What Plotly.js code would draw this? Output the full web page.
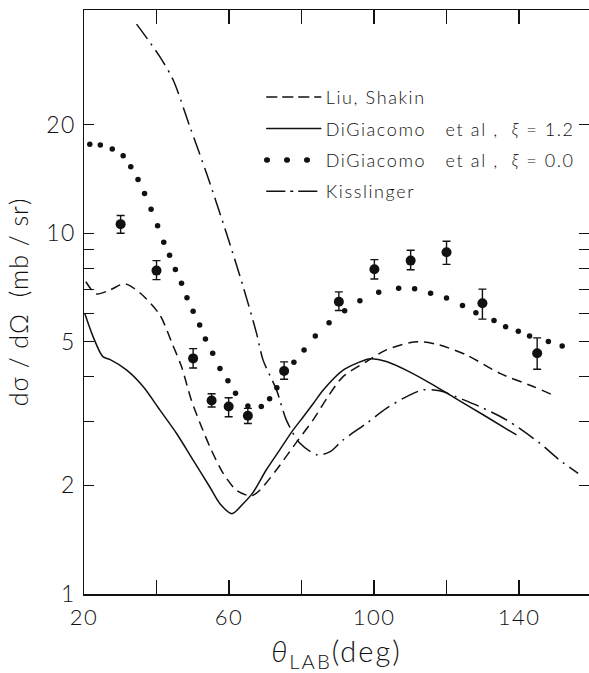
<!DOCTYPE html>
<html>
<head>
<meta charset="utf-8">
<script src="https://cdn.plot.ly/plotly-3.0.1.min.js"></script>
<style>
html,body{margin:0;padding:0;background:#fff;overflow:hidden;}
#chart{width:589px;height:673px;}
.xtick text, .ytick text { letter-spacing: 1.5px; }
.legendtext { letter-spacing: 1.6px; }
.g-xtitle text { letter-spacing: 2px; }
.g-ytitle text { letter-spacing: 1px; }
.legend .legendlines path { stroke-linecap: round; }
</style>
</head>
<body>
<div id="chart"></div>
<script>
// Experimental data: angle (deg), cross section (mb/sr), error bar top and bottom
const dataTheta = [30.1, 40.0, 50.1, 55.2, 59.9, 65.2, 75.2, 90.3, 100.1, 110.1, 120.0, 129.9, 145.0];
const dataSigma = [10.6, 7.88, 4.50, 3.44, 3.31, 3.12, 4.15, 6.46, 7.95, 8.40, 8.86, 6.40, 4.65];
const dataHigh  = [11.2, 8.40, 4.79, 3.59, 3.50, 3.27, 4.40, 6.88, 8.45, 8.97, 9.50, 7.00, 5.13];
const dataLow   = [10.0, 7.44, 4.23, 3.30, 3.10, 2.97, 3.94, 6.11, 7.47, 7.92, 8.20, 5.78, 4.20];

// Liu, Shakin (dashed)
const liuTheta = [20.5, 23.4, 27.0, 31.2, 35.4, 40.9, 44.3, 46.9, 49.6, 52.4, 55.1, 58.4, 62.0, 64.8, 66.2, 68.5, 73.1, 77.7, 83.2, 87.5, 91.4, 97.9, 103.4, 109.8, 113.5, 118.1, 125.5, 134.7, 143.9, 149.4];
const liuSigma = [7.34, 6.79, 6.95, 7.24, 6.84, 5.94, 4.95, 4.27, 3.45, 2.91, 2.51, 2.16, 1.94, 1.88, 1.87, 1.94, 2.21, 2.56, 3.04, 3.55, 4.00, 4.41, 4.75, 4.97, 5.00, 4.90, 4.60, 4.09, 3.76, 3.56];

// DiGiacomo et al, xi = 1.2 (solid)
const dg12Theta = [20.2, 22.5, 25.2, 27.1, 31.7, 36.3, 40.9, 45.5, 50.1, 54.7, 57.5, 60.8, 63.9, 66.6, 70.3, 74.0, 77.7, 80.5, 83.3, 86.0, 91.4, 97.9, 99.3, 103.4, 109.8, 116.3, 121.8, 130.1, 139.3];
const dg12Sigma = [6.00, 5.17, 4.55, 4.47, 4.18, 3.76, 3.24, 2.79, 2.35, 1.98, 1.78, 1.67, 1.78, 1.91, 2.21, 2.51, 2.85, 3.10, 3.38, 3.68, 4.17, 4.47, 4.49, 4.41, 4.13, 3.80, 3.52, 3.14, 2.76];

// DiGiacomo et al, xi = 0.0 (dotted)
const dg00Theta = [21.6, 24.5, 27.8, 30.8, 32.9, 34.9, 36.7, 38.5, 40.3, 42.0, 43.6, 45.2, 46.9, 48.4, 50.1, 51.9, 53.5, 55.5, 57.5, 59.7, 61.8, 65.2, 68.9, 71.2, 73.2, 77.9, 80.7, 83.8, 87.6, 91.9, 96.1, 101.3, 106.8, 111.2, 115.6, 120.0, 124.4, 128.1, 133.1, 136.3, 139.8, 142.9, 148.1, 151.9];
const dg00Sigma = [17.65, 17.57, 17.13, 16.4, 15.3, 14.1, 12.9, 11.65, 10.5, 9.44, 8.69, 7.93, 7.27, 6.63, 6.08, 5.57, 5.09, 4.65, 4.22, 3.90, 3.60, 3.32, 3.31, 3.48, 3.73, 4.39, 4.75, 5.19, 5.65, 6.10, 6.50, 6.86, 7.04, 7.02, 6.82, 6.62, 6.31, 6.02, 5.73, 5.51, 5.35, 5.19, 5.01, 4.87];

// Kisslinger (dash-dot)
const kisTheta = [34.5, 40.9, 44.6, 49.2, 53.8, 59.3, 63.9, 67.6, 69.4, 73.1, 75.8, 79.5, 84.4, 87.9, 91.4, 97.9, 103.4, 109.8, 113.5, 118.1, 122.7, 129.1, 136.5, 145.7, 151.2, 156.3];
const kisSigma = [38.0, 30.9, 26.6, 19.75, 14.66, 10.0, 7.11, 5.28, 4.45, 3.68, 3.04, 2.62, 2.43, 2.48, 2.67, 2.97, 3.27, 3.56, 3.68, 3.66, 3.52, 3.31, 3.04, 2.62, 2.35, 2.16];

// Axis ticks
const xTickVals = [20, 40, 60, 80, 100, 120, 140, 160];
const xTickText = ['20', '', '60', '', '100', '', '140', ''];
const yTickVals = [1, 2, 3, 4, 5, 6, 7, 8, 9, 10, 20];
const yTickText = ['1', '2', '', '', '5', '', '', '', '', '10', '20'];

const seriesNames = ['Liu,\u00a0Shakin', 'DiGiacomo\u00a0\u00a0\u00a0et\u00a0al\u00a0,\u00a0\u00a0<i>ξ</i>\u00a0=\u00a01.2', 'DiGiacomo\u00a0\u00a0\u00a0et\u00a0al\u00a0,\u00a0\u00a0<i>ξ</i>\u00a0=\u00a00.0', 'Kisslinger'];

const FONT = 'Lato, "Open Sans", "DejaVu Sans", sans-serif';
const INK = '#111';

const traces = [
  {x: liuTheta, y: liuSigma, mode: 'lines', name: seriesNames[0], legendgroup: 'a',
   line: {color: INK, width: 1.5, dash: '10px,6px', shape: 'spline', smoothing: 0.8}},
  {x: dg12Theta, y: dg12Sigma, mode: 'lines', name: seriesNames[1], legendgroup: 'b',
   line: {color: INK, width: 1.5, shape: 'spline', smoothing: 0.8}},
  {x: dg00Theta, y: dg00Sigma, mode: 'markers', name: seriesNames[2], legendgroup: 'c', showlegend: false,
   marker: {color: INK, size: 5.5}},
  // legend key only for the dotted series (no data)
  {x: [null], y: [null], mode: 'lines', name: seriesNames[2], legendgroup: 'c',
   line: {color: INK, width: 5.5, dash: '0.5px,19.5px'}},
  {x: kisTheta, y: kisSigma, mode: 'lines', name: seriesNames[3], legendgroup: 'd',
   line: {color: INK, width: 1.5, dash: '18px,6px,2px,6px', shape: 'spline', smoothing: 0.8}},
  {x: dataTheta, y: dataSigma, mode: 'markers', showlegend: false,
   marker: {color: INK, size: 10},
   error_y: {type: 'data', symmetric: false,
     array: dataHigh.map((h, i) => h - dataSigma[i]),
     arrayminus: dataLow.map((l, i) => dataSigma[i] - l),
     color: INK, thickness: 1.4, width: 4}}
];

const layout = {
  width: 589, height: 673,
  margin: {l: 84, r: 0, t: 10, b: 79},
  paper_bgcolor: '#fff', plot_bgcolor: '#fff',
  font: {family: FONT, color: INK, size: 22, weight: 300},
  showlegend: true,
  legend: {x: 0.352, y: 0.882, xanchor: 'left', yanchor: 'top', bgcolor: 'rgba(0,0,0,0)',
    font: {family: FONT, size: 18, color: INK, weight: 300}, itemwidth: 54, tracegroupgap: 5},
  xaxis: {
    type: 'linear', range: [20, 159.3],
    tickmode: 'array', tickvals: xTickVals, ticktext: xTickText,
    ticks: 'inside', ticklen: 14, tickwidth: 1.2, tickcolor: INK,
    showline: true, linecolor: INK, linewidth: 1.5, mirror: 'ticks',
    showgrid: false, zeroline: false, ticklabelstandoff: 3,
    tickfont: {size: 22, family: FONT, weight: 300},
    title: {text: '<i>θ</i><sub>LAB</sub>(deg)', font: {size: 29, family: FONT, weight: 300}, standoff: 13}
  },
  yaxis: {
    type: 'log', range: [0, 1.619],
    tickmode: 'array', tickvals: yTickVals, ticktext: yTickText,
    ticks: 'inside', ticklen: 10, tickwidth: 1.2, tickcolor: INK,
    showline: true, linecolor: INK, linewidth: 1.5, mirror: 'ticks',
    showgrid: false, zeroline: false, ticklabelstandoff: 2,
    tickfont: {size: 23, family: FONT, weight: 300},
    title: {text: '\u00a0\u00a0dσ / dΩ\u00a0\u00a0(mb / sr)', font: {size: 25, family: FONT, weight: 300}, standoff: 10}
  }
};

Plotly.newPlot('chart', traces, layout, {displayModeBar: false, staticPlot: true});
</script>
</body>
</html>
